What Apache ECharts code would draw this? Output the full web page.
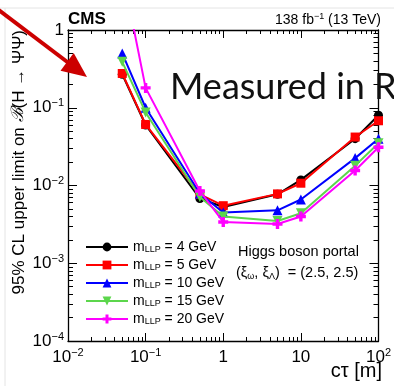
<!DOCTYPE html>
<html>
<head>
<meta charset="utf-8">
<script src="https://cdn.jsdelivr.net/npm/echarts@6/dist/echarts.min.js"></script>
<style>
html,body{margin:0;padding:0;background:#fff;}
#chart{width:394px;height:386px;}
</style>
</head>
<body>
<div id="chart"></div>
<script>
// ---- data ----
var ctau = [0.05, 0.1, 0.5, 1, 5, 10, 50, 100];
var seriesNames = ['4 GeV', '5 GeV', '10 GeV', '15 GeV', '20 GeV'];
var limit_m4  = [0.27, 0.060, 0.0068, 0.0053, 0.0077, 0.0118, 0.040, 0.080];
var limit_m5  = [0.276, 0.061, 0.0077, 0.0055, 0.0078, 0.0107, 0.042, 0.068];
var limit_m10 = [0.50, 0.100, 0.0079, 0.0045, 0.0048, 0.0066, 0.0225, 0.040];
var limit_m15 = [0.39, 0.087, 0.0071, 0.0040, 0.0035, 0.0044, 0.018, 0.035];
var limit_m20 = [5.7, 0.180, 0.0085, 0.0034, 0.0032, 0.0040, 0.0156, 0.031];
var xMajorTicks = [0.01, 0.1, 1, 10, 100];
var yMajorTicks = [0.0001, 0.001, 0.01, 0.1, 1];

var FONT = 'Liberation Sans';
var colors = ['#000000', '#ff0000', '#0000ff', '#5cd64c', '#ff00ff'];
var symbols = ['circle', 'rect', 'triangle', 'path://M0,0 L10,0 L5,9 Z',
  'path://M3.3,0 H6.7 V3.3 H10 V6.7 H6.7 V10 H3.3 V6.7 H0 V3.3 H3.3 Z'];
var symSizes = [9, 9, 10, 10, 10];
var allData = [limit_m4, limit_m5, limit_m10, limit_m15, limit_m20];

function minorTicks(lo, hi) {
  var out = [];
  for (var e = lo; e < hi; e++) {
    for (var k = 2; k <= 9; k++) out.push(+(k * Math.pow(10, e)).toPrecision(3));
  }
  return out;
}
function powLabel(v) {
  var e = Math.round(Math.log10(v));
  if (e === 0) return '{a|1}';
  if (e === 1) return '{a|10}';
  return '{a|10}{s|' + (e < 0 ? '\u2212' + (-e) : e) + '}';
}
var labRich = {
  a: {fontFamily: FONT, fontSize: 17, color: '#000', lineHeight: 20},
  s: {fontFamily: FONT, fontSize: 11, color: '#000', lineHeight: 20, verticalAlign: 'top', padding: [0, 0, 9, 0]}
};

function xAx(pos, major, showLabel, showLine) {
  return {
    type: 'log', logBase: 10, min: 0.01, max: 100, position: pos,
    axisLine: {show: showLine, onZero: false, lineStyle: {color: '#000', width: 1.3}},
    axisTick: {show: true, inside: true, length: major ? 8 : 4,
      customValues: major ? xMajorTicks : minorTicks(-2, 2),
      lineStyle: {color: '#000', width: 1}},
    axisLabel: {show: showLabel, margin: 6, customValues: xMajorTicks,
      formatter: powLabel, rich: labRich},
    splitLine: {show: false}
  };
}
function yAx(pos, major, showLabel, showLine) {
  return {
    type: 'log', logBase: 10, min: 0.0001, max: 1, position: pos,
    axisLine: {show: showLine, onZero: false, lineStyle: {color: '#000', width: 1.3}},
    axisTick: {show: true, inside: true, length: major ? 9 : 5,
      customValues: major ? yMajorTicks : minorTicks(-4, 0),
      lineStyle: {color: '#000', width: 1}},
    axisLabel: {show: showLabel, margin: 4, customValues: yMajorTicks,
      formatter: powLabel, rich: labRich},
    splitLine: {show: false}
  };
}

var series = allData.map(function (d, i) {
  return {
    name: seriesNames[i], type: 'line', xAxisIndex: 0, yAxisIndex: 0,
    data: ctau.map(function (x, j) { return [x, d[j]]; }),
    symbol: symbols[i], symbolSize: symSizes[i], showAllSymbol: true,
    clip: true, animation: false,
    lineStyle: {color: colors[i], width: 2},
    itemStyle: {color: colors[i], borderWidth: 0},
    z: 2 + i
  };
});

var chart = echarts.init(document.getElementById('chart'), null, {renderer: 'canvas'});
chart.setOption({
  animation: false,
  backgroundColor: '#fff',
  grid: {left: 68, right: 14, top: 30, bottom: 45, containLabel: false},
  xAxis: [xAx('bottom', true, true, true), xAx('bottom', false, false, false),
          xAx('top', true, false, true), xAx('top', false, false, false)],
  yAxis: [yAx('left', true, true, true), yAx('left', false, false, false),
          yAx('right', true, false, true), yAx('right', false, false, false)],
  legend: {
    orient: 'vertical', left: 80, top: 235, itemWidth: 42, itemHeight: 11, itemGap: 4,
    data: seriesNames,
    formatter: function (n) { return '{m|m}{s|LLP}{m| = ' + n + '}'; },
    textStyle: {
      fontFamily: FONT, fontSize: 14, color: '#000',
      rich: {
        m: {fontFamily: FONT, fontSize: 14, color: '#000', lineHeight: 14},
        s: {fontFamily: FONT, fontSize: 9, color: '#000', lineHeight: 14, verticalAlign: 'bottom', padding: [5, 0, 0, 0]}
      }
    }
  },
  series: series,
  graphic: [
    {type: 'line', shape: {x1: 0, y1: 8, x2: 394, y2: 8}, style: {stroke: '#e4e4e4', lineWidth: 1}, silent: true},
    {type: 'line', shape: {x1: 5, y1: 8, x2: 5, y2: 386}, style: {stroke: '#e4e4e4', lineWidth: 1}, silent: true},
    {type: 'text', x: 68, y: 19, style: {text: 'CMS', fontFamily: FONT, fontWeight: 'bold', fontSize: 17, fill: '#000', textAlign: 'left', verticalAlign: 'middle'}},
    {type: 'text', x: 381, y: 20, style: {
      text: '{a|138 fb}{s|\u22121}{a| (13 TeV)}', textAlign: 'right', verticalAlign: 'middle',
      rich: {a: {fontFamily: FONT, fontSize: 14, fill: '#000', lineHeight: 16},
             s: {fontFamily: FONT, fontSize: 9, fill: '#000', lineHeight: 16, verticalAlign: 'top', padding: [0, 0, 6, 0]}}}},
    {type: 'text', x: 19, y: 30, rotation: Math.PI / 2, style: {
      text: '{a|95% CL upper limit on }{b|\u212C}{a|(H \u2192 \u03A8\u03A8)}', textAlign: 'right', verticalAlign: 'middle',
      rich: {a: {fontFamily: FONT, fontSize: 17, fill: '#000'},
             b: {fontFamily: 'DejaVu Serif', fontSize: 17, fill: '#000', fontStyle: 'italic'}}}},
    {type: 'text', x: 382, y: 371, style: {
      text: 'c\u03C4 [m]', fontFamily: FONT, fontSize: 20, fill: '#000', textAlign: 'right', verticalAlign: 'middle'}},
    {type: 'text', x: 238, y: 252, style: {
      text: 'Higgs boson portal', fontFamily: FONT, fontSize: 14.5, fill: '#000', textAlign: 'left', verticalAlign: 'middle'}},
    {type: 'text', x: 236, y: 273, style: {
      text: '{a|(\u03BE}{s|\u03C9}{a|, \u03BE}{s|\u039B}{a|)  = (2.5, 2.5)}', textAlign: 'left', verticalAlign: 'middle',
      rich: {a: {fontFamily: FONT, fontSize: 14.5, fill: '#000', lineHeight: 16},
             s: {fontFamily: FONT, fontSize: 9, fill: '#000', lineHeight: 16, verticalAlign: 'bottom', padding: [6, 0, 0, 0]}}}},
    {type: 'polyline', shape: {points: [[-2, 9.5], [68, 62.5]]}, style: {stroke: '#cc0000', lineWidth: 4}, silent: true, z: 100},
    {type: 'polygon', shape: {points: [[87, 77], [60.5, 70.7], [73.7, 53.1]]}, style: {fill: '#cc0000'}, silent: true, z: 100},
    {type: 'text', x: 170, y: 87, z: 100, style: {
      text: 'Measured in R', fontFamily: 'Lato', fontSize: 36, fill: '#111', textAlign: 'left', verticalAlign: 'middle'}}
  ]
});
</script>
</body>
</html>
